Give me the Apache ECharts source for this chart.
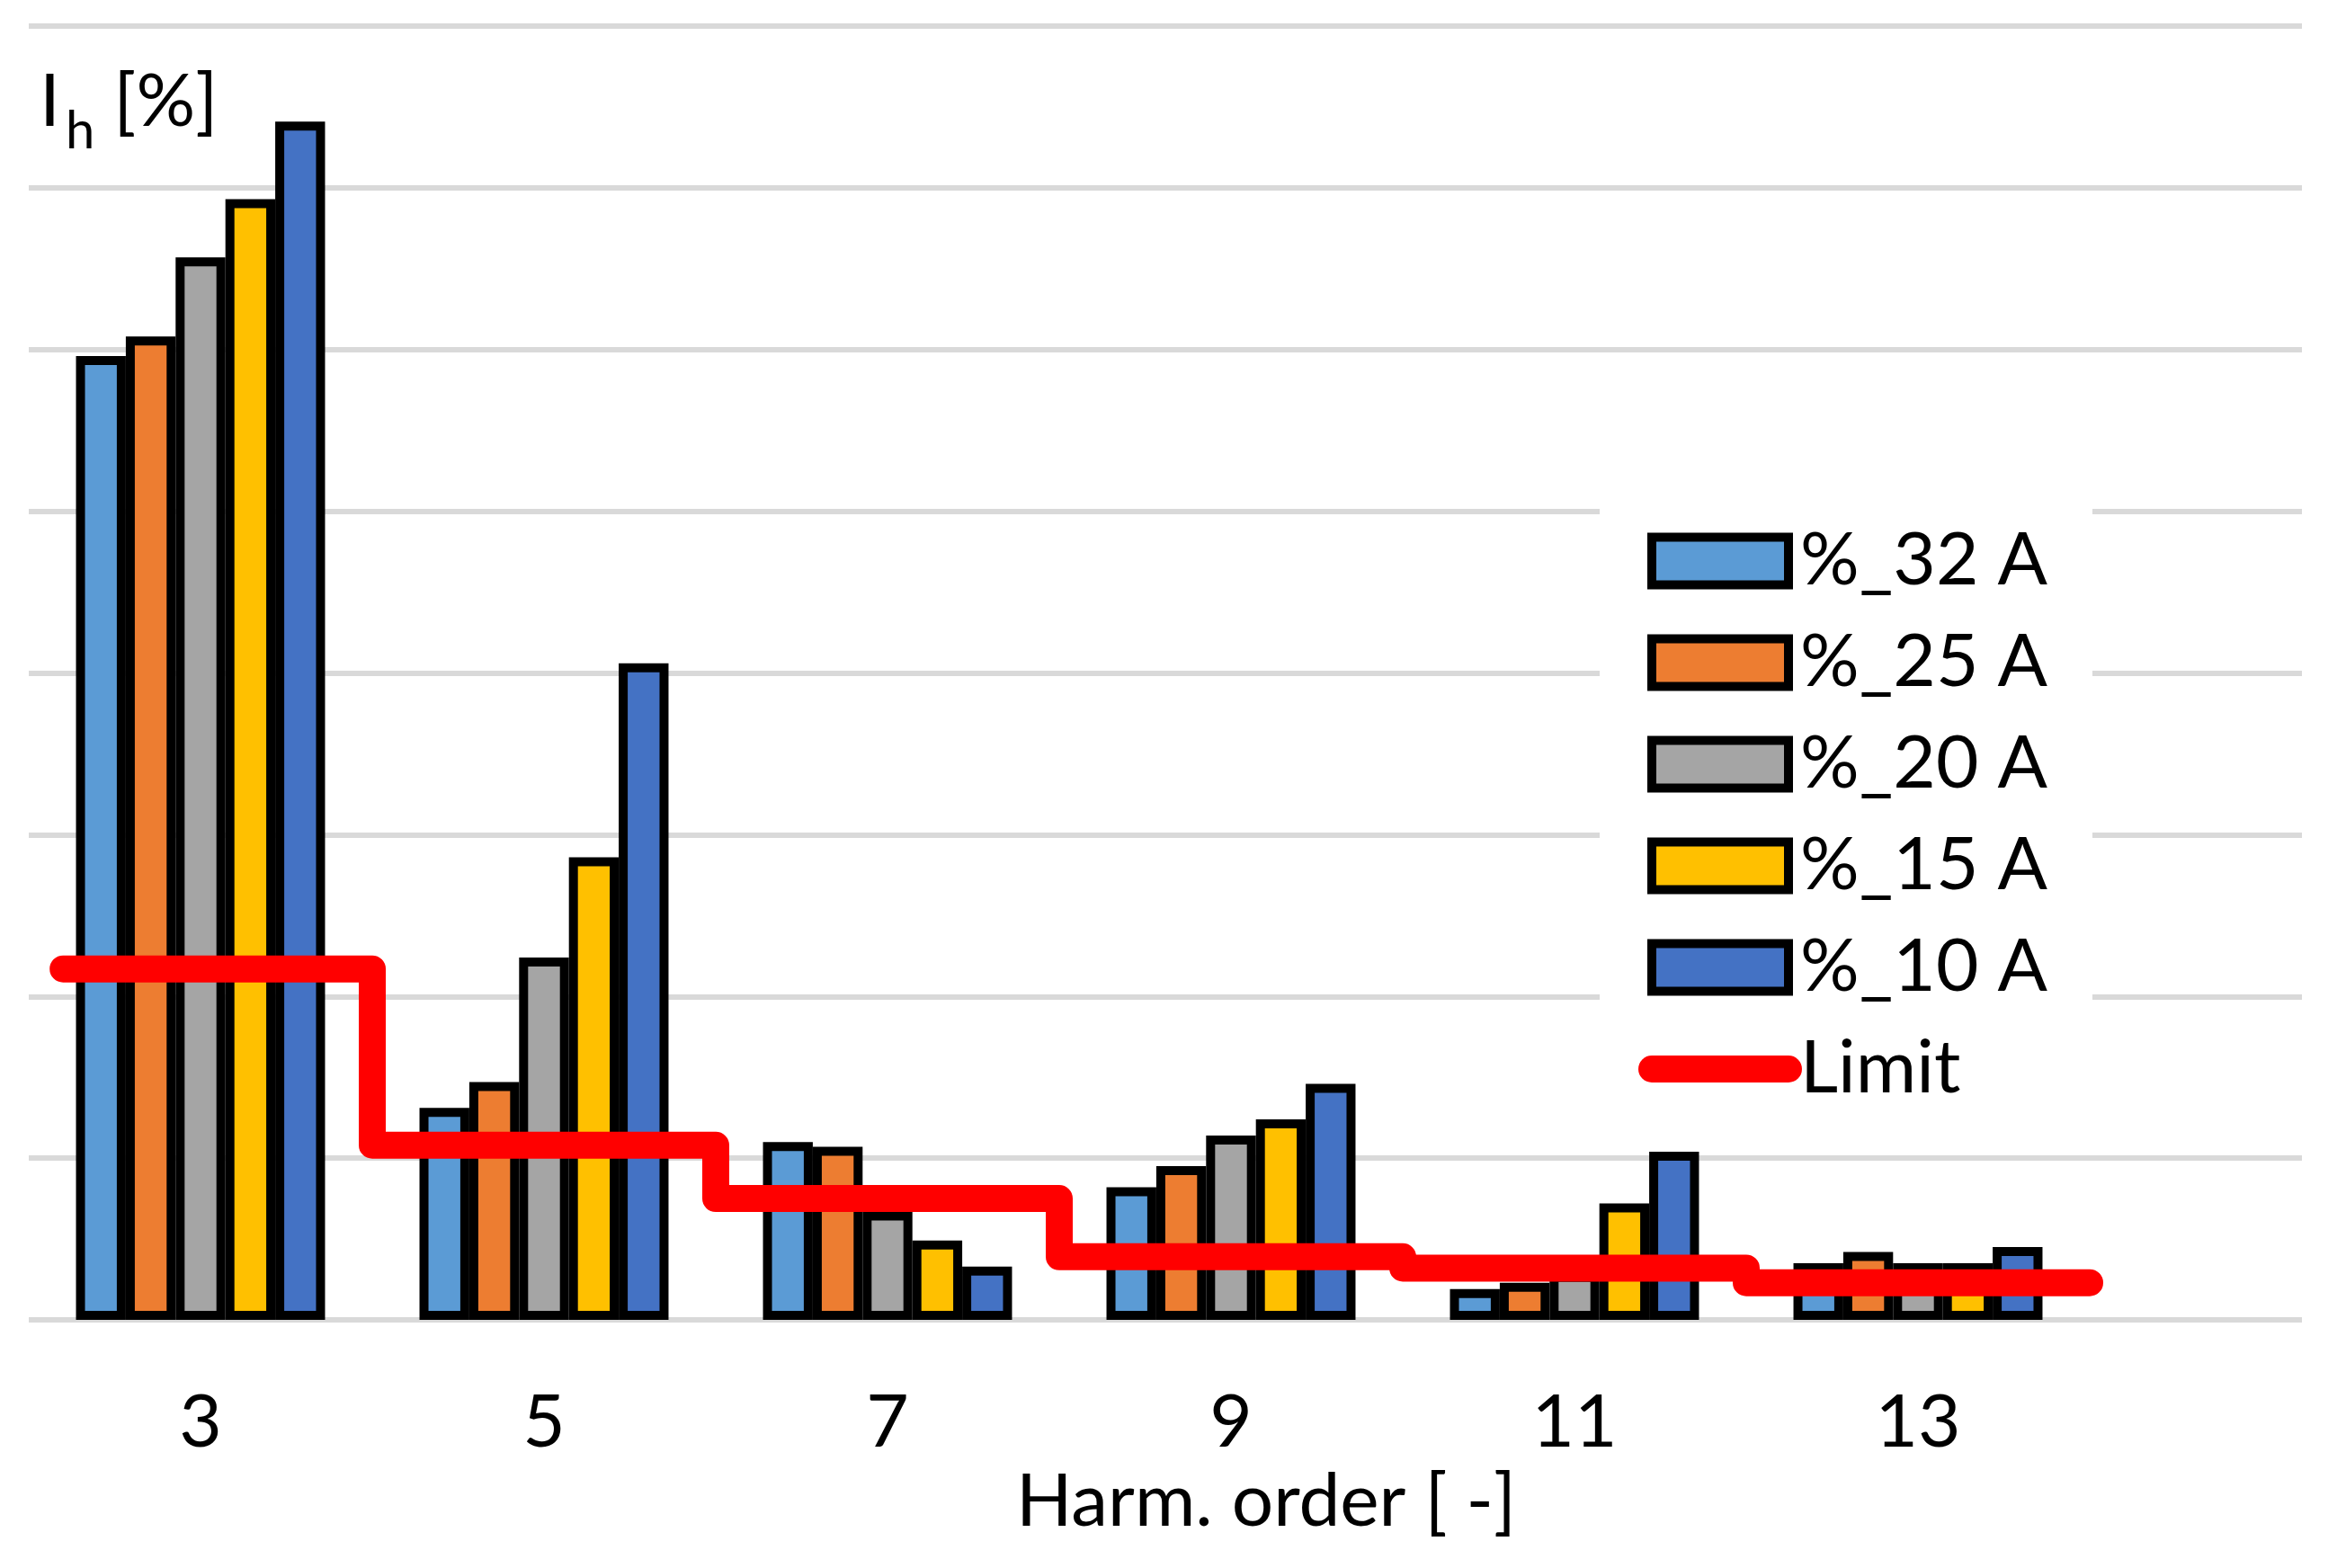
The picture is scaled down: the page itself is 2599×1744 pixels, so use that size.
<!DOCTYPE html>
<html>
<head>
<meta charset="utf-8">
<script src="https://cdn.jsdelivr.net/npm/echarts@6/dist/echarts.min.js"></script>
<style>
html,body{margin:0;padding:0;background:#fff;}
#chart{width:2599px;height:1744px;}
</style>
</head>
<body>
<div id="chart"></div>
<script>
// ---- data ----
const categories = ['3', '5', '7', '9', '11', '13'];
const harmonicOrders = [3, 5, 7, 9, 11, 13];
const s32 = [59.6, 13.1, 11.0, 8.2, 1.9, 3.5];
const s25 = [60.8, 14.7, 10.7, 9.5, 2.3, 4.2];
const s20 = [65.7, 22.4, 6.7, 11.4, 2.9, 3.5];
const s15 = [69.3, 28.6, 4.9, 12.4, 7.2, 3.5];
const s10 = [74.1, 40.6, 3.3, 14.6, 10.4, 4.5];
const limit = [21.7, 10.8, 7.5, 3.9, 3.2, 2.3];
const limitStart = 2.2;
const seriesNames = ['%_32 A', '%_25 A', '%_20 A', '%_15 A', '%_10 A'];
const seriesColors = ['#5B9BD5', '#ED7D31', '#A5A5A5', '#FFC000', '#4472C4'];
const yMin = 0, yMax = 80, yInterval = 10;

// step line points for the limit (each harmonic spans h-1 .. h+1)
const limitPoints = [];
harmonicOrders.forEach((h, i) => {
  limitPoints.push([i === 0 ? limitStart : h - 1, limit[i]]);
  limitPoints.push([h + 1, limit[i]]);
});

const FONT = 'Lato';
const chart = echarts.init(document.getElementById('chart'));
const barData = [s32, s25, s20, s15, s10];

const barSeries = barData.map((d, i) => ({
  name: seriesNames[i],
  type: 'bar',
  xAxisIndex: 1,
  yAxisIndex: 1,
  data: d,
  barGap: '0%',
  barCategoryGap: '27.5%',
  itemStyle: { color: seriesColors[i], borderColor: '#000', borderWidth: 10 },
  z: 2
}));

const legendData = seriesNames.map(n => ({
  name: n,
  icon: 'rect',
  itemStyle: { borderColor: '#000', borderWidth: 10 }
}));
legendData.push({
  name: 'Limit',
  itemStyle: { opacity: 0 },
  lineStyle: { color: '#FF0000', width: 30, cap: 'round' }
});

chart.setOption({
  animation: false,
  backgroundColor: '#fff',
  title: {
    text: '{a|I}{b|h}{a| [%]}',
    left: 44,
    top: 73,
    padding: 0,
    textStyle: {
      fontWeight: 'normal',
      rich: {
        a: { fontFamily: FONT, fontSize: 82, lineHeight: 82, fontWeight: 'normal', color: '#000', verticalAlign: 'top' },
        b: { fontFamily: FONT, fontSize: 58, lineHeight: 58, fontWeight: 'normal', color: '#000', verticalAlign: 'top', padding: [44, 0, 0, 6] }
      }
    }
  },
  legend: {
    orient: 'vertical',
    left: 1779,
    top: 530,
    padding: [53, 50, 30, 43],
    backgroundColor: '#fff',
    itemWidth: 152,
    itemHeight: 53,
    itemGap: 31,
    textStyle: { fontFamily: FONT, fontSize: 82, lineHeight: 82, color: '#000', padding: [0, 0, 0, 8] },
    data: legendData,
    z: 10
  },
  grid: [
    { left: 32, top: 29, width: 2528, height: 1439 },
    { left: 32, top: 29, width: 2292, height: 1439 }
  ],
  xAxis: [
    { gridIndex: 0, type: 'value', min: 0, max: 1, show: false },
    {
      gridIndex: 1, type: 'category', data: categories,
      axisLine: { show: false }, axisTick: { show: false },
      axisLabel: { fontFamily: FONT, fontSize: 82, color: '#000', margin: 74 },
      name: 'Harm. order [ -]',
      nameLocation: 'middle',
      nameGap: 162,
      nameTextStyle: { fontFamily: FONT, fontSize: 82, color: '#000', padding: [0, 0, 0, 460] }
    },
    { gridIndex: 1, type: 'value', min: 2, max: 14, show: false }
  ],
  yAxis: [
    {
      gridIndex: 0, type: 'value', min: yMin, max: yMax, interval: yInterval,
      axisLabel: { show: false }, axisLine: { show: false }, axisTick: { show: false },
      splitLine: { show: true, lineStyle: { color: '#D9D9D9', width: 6 } }
    },
    {
      gridIndex: 1, type: 'value', min: yMin, max: yMax, interval: yInterval,
      show: false, splitLine: { show: false }
    }
  ],
  series: barSeries.concat([{
    name: 'Limit',
    type: 'line',
    xAxisIndex: 2,
    yAxisIndex: 1,
    data: limitPoints,
    symbol: 'none',
    lineStyle: { color: '#FF0000', width: 30, cap: 'round', join: 'round' },
    itemStyle: { color: '#FF0000' },
    z: 5
  }])
});
</script>
</body>
</html>
